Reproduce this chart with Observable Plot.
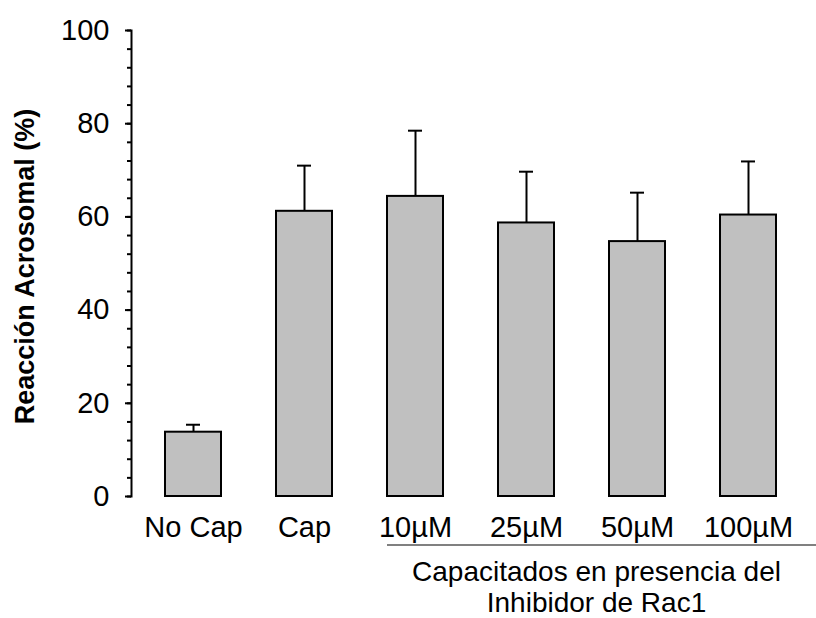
<!DOCTYPE html>
<html>
<head>
<meta charset="utf-8">
<script src="https://cdn.jsdelivr.net/npm/d3@7"></script>
<script src="https://cdn.jsdelivr.net/npm/@observablehq/plot@0.6"></script>
<style>
  html, body { margin: 0; padding: 0; background: white; }
</style>
</head>
<body>
<div id="chart"></div>
<script>
const categories = ["No Cap", "Cap", "10µM", "25µM", "50µM", "100µM"];
const means = [13.8, 61.2, 64.4, 58.7, 54.7, 60.4];
const errors = [1.6, 9.8, 14.1, 11.0, 10.5, 11.5];
const yTicks = [0, 20, 40, 60, 80, 100];
const yMinorTicks = [0, 4, 8, 12, 16, 20, 24, 28, 32, 36, 40, 44, 48, 52, 56, 60, 64, 68, 72, 76, 80, 84, 88, 92, 96, 100];
const yLabel = "Reacción Acrosomal (%)";
const groupFirst = "10µM";
const groupLabelLines = ["Capacitados en presencia del", "Inhibidor de Rac1"];

const data = categories.map((c, i) => ({cat: c, mean: means[i], top: means[i] + errors[i]}));

const W = 816, H = 618, mL = 131, mR = 6, mT = 30, mB = 122;
const font = "'Liberation Sans', Arial, sans-serif";

const plot = Plot.plot({
  width: W,
  height: H,
  marginLeft: mL,
  marginRight: mR,
  marginTop: mT,
  marginBottom: mB,
  style: {fontFamily: font, background: "white", color: "black", overflow: "visible"},
  x: {domain: categories, paddingInner: 0.5, paddingOuter: 0.283, label: null},
  y: {domain: [0, 100], label: null},
  marks: [
    Plot.ruleX(data, {x: "cat", y1: "mean", y2: "top", stroke: "black", strokeWidth: 2}),
    Plot.tickY(data, {x: "cat", y: "top", stroke: "black", strokeWidth: 2, insetLeft: 21, insetRight: 21}),
    Plot.barY(data, {x: "cat", y: "mean", fill: "#c0c0c0", stroke: "black", strokeWidth: 2}),
    Plot.axisY(yMinorTicks, {tickSize: 4, tickFormat: () => "", label: null, strokeWidth: 2}),
    Plot.axisY(yTicks, {tickSize: 6, tickPadding: 16, fontSize: 29, label: null, strokeWidth: 2}),
    Plot.axisX({tickSize: 0, tickPadding: 20, fontSize: 29, label: null}),
    Plot.frame({anchor: "left", strokeWidth: 2}),
    Plot.text([yLabel], {frameAnchor: "left", dx: -106, dy: 3, rotate: -90, textAnchor: "middle", fontSize: 27, fontWeight: "bold", fill: "black"})
  ]
});

document.getElementById("chart").appendChild(plot);

// group underline and group label, positioned with the plot's x scale
const xs = plot.scale("x");
const x0 = xs.apply(groupFirst);
const x1 = W;
const svg = d3.select(plot);
const yBase = H - mB;
svg.append("line")
  .attr("x1", x0).attr("x2", x1)
  .attr("y1", yBase + 49).attr("y2", yBase + 49)
  .attr("stroke", "#808080").attr("stroke-width", 2);
const cx = (x0 + x1) / 2 - 5;
groupLabelLines.forEach((t, i) => {
  svg.append("text")
    .attr("x", cx)
    .attr("y", yBase + 85 + i * 31)
    .attr("text-anchor", "middle")
    .attr("font-size", 28)
    .attr("font-family", font)
    .attr("fill", "black")
    .text(t);
});
</script>
</body>
</html>
